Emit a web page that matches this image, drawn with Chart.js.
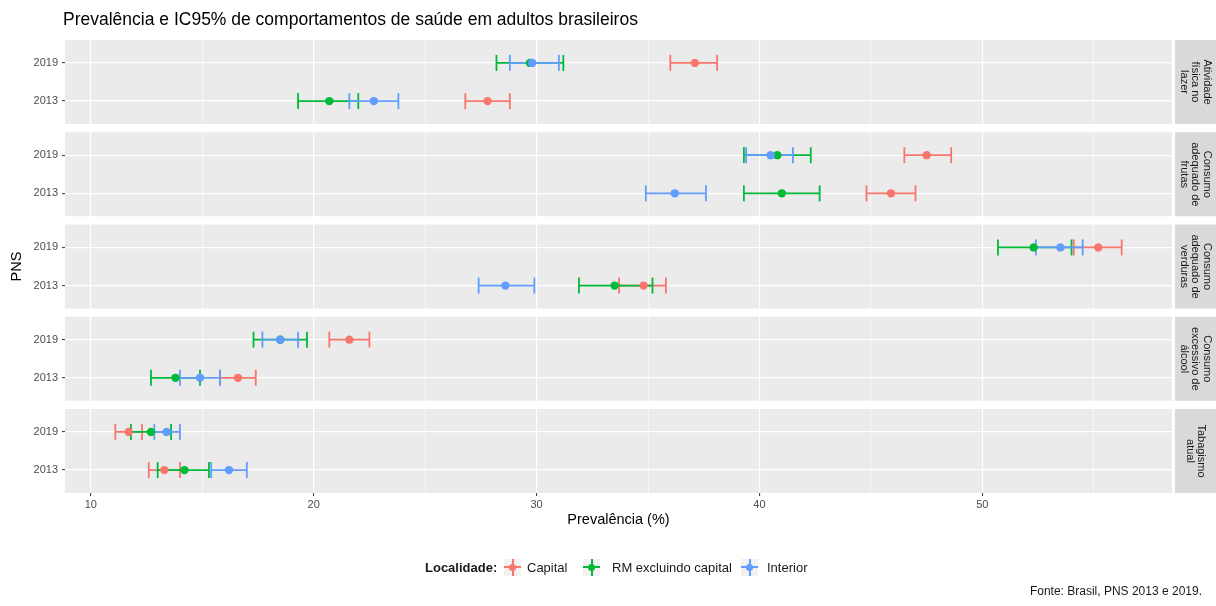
<!DOCTYPE html>
<html>
<head>
<meta charset="utf-8">
<script src="https://cdn.jsdelivr.net/npm/chart.js@4.4.0/dist/chart.umd.min.js"></script>
<style>
  html, body { margin: 0; padding: 0; background: #ffffff; }
  #wrap { position: relative; width: 1216px; height: 606px; font-family: "Liberation Sans", Arial, sans-serif; }
  #chart { position: absolute; left: 0; top: 0; }
  .lg { position: absolute; top: 567px; transform: translateY(-50%); white-space: nowrap; color: #1a1a1a; font-size: 13px; line-height: 1; }
  .lg.b { font-weight: bold; }
  .key { position: absolute; top: 567px; width: 17px; height: 17px; margin-top: -8.5px; background: #f2f2f2; }
  .key .h { position: absolute; left: 0; right: 0; top: 7.5px; height: 2px; }
  .key .v { position: absolute; top: 0; bottom: 0; left: 7.5px; width: 2px; }
  .key .d { position: absolute; left: 5px; top: 5px; width: 7px; height: 7px; border-radius: 50%; }
  #fonte { position: absolute; right: 14px; top: 591px; transform: translateY(-50%); font-size: 12px; color: #1a1a1a; }
</style>
</head>
<body>
<div id="wrap">
  <canvas id="chart" width="1216" height="606"></canvas>
  <div id="legend"></div>
  <div id="fonte">Fonte: Brasil, PNS 2013 e 2019.</div>
</div>
<script>
// ---------- DATA ----------
const titleText = "Prevalência e IC95% de comportamentos de saúde em adultos brasileiros";
const facets = ["Atividade física no lazer", "Consumo adequado de frutas", "Consumo adequado de verduras", "Consumo excessivo de álcool", "Tabagismo atual"];
const stripLines = [["Atividade", "física no", "lazer"], ["Consumo", "adequado de", "frutas"], ["Consumo", "adequado de", "verduras"], ["Consumo", "excessivo de", "álcool"], ["Tabagismo", "atual"]];
const years = ["2019", "2013"];
const locations = ["Capital", "RM excluindo capital", "Interior"];
const majorTicks = [10, 20, 30, 40, 50];
const minorTicks = [15, 25, 35, 45, 55];

// order of each array: facet1-2019, facet1-2013, facet2-2019, facet2-2013, ...
const capitalEst  = [37.1, 27.8, 47.5, 45.9, 55.2, 34.8, 21.6, 16.6, 11.7, 13.3];
const capitalLow  = [36.0, 26.8, 46.5, 44.8, 54.1, 33.7, 20.7, 15.8, 11.1, 12.6];
const capitalHigh = [38.1, 28.8, 48.6, 47.0, 56.25, 35.8, 22.5, 17.4, 12.3, 14.0];

const rmEst  = [29.7, 20.7, 40.8, 41.0, 52.3, 33.5, 18.5, 13.8, 12.7, 14.2];
const rmLow  = [28.2, 19.3, 39.3, 39.3, 50.7, 31.9, 17.3, 12.7, 11.8, 13.0];
const rmHigh = [31.2, 22.0, 42.3, 42.7, 54.0, 35.2, 19.7, 14.9, 13.6, 15.3];

const interiorEst  = [29.8, 22.7, 40.5, 36.2, 53.5, 28.6, 18.5, 14.9, 13.4, 16.2];
const interiorLow  = [28.8, 21.6, 39.4, 34.9, 52.4, 27.4, 17.7, 14.0, 12.85, 15.4];
const interiorHigh = [31.0, 23.8, 41.5, 37.6, 54.5, 29.9, 19.3, 15.8, 14.0, 17.0];

const colors = ["#F8766D", "#00BA38", "#619CFF"];

// ---------- LAYOUT OF DISCRETE ROWS ----------
const PANEL_SPAN = 2.2;       // 2 levels + 0.6 expansion on each side
const PANEL_GAP = 0.216;
const PANEL_STEP = PANEL_SPAN + PANEL_GAP;
function rowValue(i) { const f = Math.floor(i / 2), j = i % 2; return f * PANEL_STEP + 0.6 + j; }
const yMax = facets.length * PANEL_SPAN + (facets.length - 1) * PANEL_GAP;

const est = [capitalEst, rmEst, interiorEst];
const low = [capitalLow, rmLow, interiorLow];
const high = [capitalHigh, rmHigh, interiorHigh];

const allVals = [].concat(...low, ...high);
const dMin = Math.min(...allVals), dMax = Math.max(...allVals);
const xMin = dMin - 0.05 * (dMax - dMin), xMax = dMax + 0.05 * (dMax - dMin);

// ---------- DATASETS ----------
const datasets = [];
for (let l = locations.length - 1; l >= 0; l--) {
  for (let i = 0; i < est[l].length; i++) {
    datasets.push({
      type: 'scatter', showLine: true, order: 1,
      label: locations[l],
      data: [{ x: low[l][i], y: rowValue(i) }, { x: high[l][i], y: rowValue(i) }],
      borderColor: colors[l], borderWidth: 1.8,
      pointStyle: 'line', pointRotation: 90, pointRadius: 8, pointHoverRadius: 8,
      pointBorderColor: colors[l], pointBorderWidth: 1.8, pointBackgroundColor: colors[l]
    });
  }
}
for (let l = locations.length - 1; l >= 0; l--) {
  datasets.push({
    type: 'scatter', order: 0, label: locations[l],
    data: est[l].map((v, i) => ({ x: v, y: rowValue(i) })),
    pointStyle: 'circle', pointRadius: 4.2, pointHoverRadius: 4.2,
    backgroundColor: colors[l], borderColor: colors[l], borderWidth: 0
  });
}

// ---------- PLUGIN: panels, strips, title ----------
const facetPlugin = {
  id: 'facets',
  beforeDraw(chart) {
    const { ctx, chartArea, scales } = chart;
    ctx.save();
    ctx.fillStyle = '#ebebeb';
    for (let f = 0; f < facets.length; f++) {
      const t = scales.y.getPixelForValue(f * PANEL_STEP);
      const b = scales.y.getPixelForValue(f * PANEL_STEP + PANEL_SPAN);
      ctx.fillRect(chartArea.left, t, chartArea.right - chartArea.left, b - t);
    }
    ctx.restore();
  },
  afterDraw(chart) {
    const { ctx, chartArea, scales } = chart;
    ctx.save();
    const sx = chartArea.right + 3, sw = 1216 - sx;
    for (let f = 0; f < facets.length; f++) {
      const t = scales.y.getPixelForValue(f * PANEL_STEP);
      const b = scales.y.getPixelForValue(f * PANEL_STEP + PANEL_SPAN);
      ctx.fillStyle = '#d9d9d9';
      ctx.fillRect(sx, t, sw, b - t);
      ctx.save();
      ctx.translate(sx + sw / 2, (t + b) / 2);
      ctx.rotate(Math.PI / 2);
      ctx.fillStyle = '#1a1a1a';
      ctx.font = '11px "Liberation Sans", Arial, sans-serif';
      ctx.textAlign = 'center';
      ctx.textBaseline = 'middle';
      const lines = stripLines[f], lh = 11.5;
      lines.forEach((s, k) => ctx.fillText(s, 0, (k - (lines.length - 1) / 2) * lh));
      ctx.restore();
    }
    ctx.fillStyle = '#000000';
    ctx.font = '17.5px "Liberation Sans", Arial, sans-serif';
    ctx.textAlign = 'left';
    ctx.textBaseline = 'middle';
    ctx.fillText(titleText, 63, 20);
    ctx.restore();
  }
};

const tickFont = { family: '"Liberation Sans", Arial, sans-serif', size: 11 };

new Chart(document.getElementById('chart'), {
  type: 'scatter',
  data: { datasets },
  plugins: [facetPlugin],
  options: {
    responsive: false, animation: false, events: [],
    layout: { padding: { left: 0, right: 44, top: 40, bottom: 73 } },
    plugins: { legend: { display: false }, tooltip: { enabled: false }, title: { display: false } },
    scales: {
      x: {
        type: 'linear', min: xMin, max: xMax,
        afterBuildTicks(scale) { scale.ticks = majorTicks.concat(minorTicks).sort((a, b) => a - b).map(v => ({ value: v })); },
        afterFit(scale) { scale.height = 40; },
        ticks: {
          font: tickFont, color: '#4d4d4d', padding: 2, maxRotation: 0, autoSkip: false,
          callback: (v) => majorTicks.includes(v) ? String(v) : ''
        },
        grid: {
          color: '#ffffff',
          lineWidth: (c) => (c.tick && majorTicks.includes(c.tick.value)) ? 1.2 : 0.6,
          tickLength: 3, tickWidth: 1,
          tickColor: (c) => (c.tick && majorTicks.includes(c.tick.value)) ? '#333333' : 'rgba(0,0,0,0)'
        },
        border: { display: false },
        title: { display: true, text: 'Prevalência (%)', color: '#000000',
          font: { family: '"Liberation Sans", Arial, sans-serif', size: 14.5 }, padding: { top: 0, bottom: 4 } }
      },
      y: {
        type: 'linear', reverse: true, min: 0, max: yMax,
        afterBuildTicks(scale) { scale.ticks = est[0].map((v, i) => ({ value: rowValue(i) })); },
        afterFit(scale) { scale.width = 65; },
        ticks: {
          font: tickFont, color: '#4d4d4d', padding: 4, autoSkip: false,
          callback: (v, idx) => years[idx % 2]
        },
        grid: { color: '#ffffff', lineWidth: 1.2, tickLength: 3, tickWidth: 1, tickColor: '#333333' },
        border: { display: false },
        title: { display: true, text: 'PNS', color: '#000000',
          font: { family: '"Liberation Sans", Arial, sans-serif', size: 14.5 }, padding: { top: 8, bottom: 0 } }
      }
    }
  }
});

// ---------- HTML LEGEND ----------
const legend = document.getElementById('legend');
const legendPos = [{ key: 504, text: 527 }, { key: 583, text: 612 }, { key: 741, text: 767 }];
const lt = document.createElement('div');
lt.className = 'lg b'; lt.style.left = '425px'; lt.textContent = 'Localidade:';
legend.appendChild(lt);
locations.forEach((name, l) => {
  const k = document.createElement('div');
  k.className = 'key'; k.style.left = legendPos[l].key + 'px';
  k.innerHTML = '<span class="h"></span><span class="v"></span><span class="d"></span>';
  k.querySelectorAll('span').forEach(s => s.style.background = colors[l]);
  legend.appendChild(k);
  const t = document.createElement('div');
  t.className = 'lg'; t.style.left = legendPos[l].text + 'px'; t.textContent = name;
  legend.appendChild(t);
});
</script>
</body>
</html>
